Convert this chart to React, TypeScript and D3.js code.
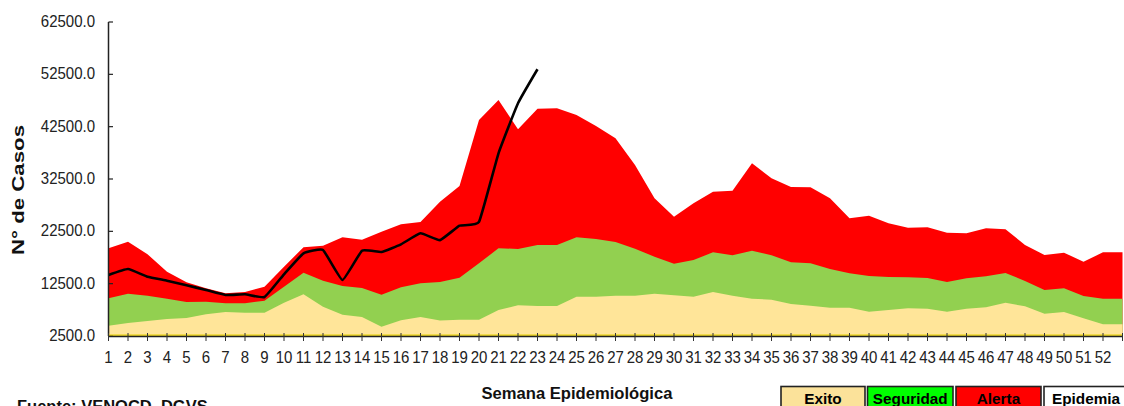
import * as d3 from 'd3';

// semanas epidemiológicas (53 puntos, etiqueta solo hasta 52)
const weeks = d3.range(1, 54);
const yTicks = [2500, 12500, 22500, 32500, 42500, 52500, 62500];

// límites superiores de cada zona del corredor endémico
const exito = [4470, 4985, 5370, 5750, 5940, 6650, 7090, 6960, 6960, 8870, 10470, 8100, 6570, 6130, 4280, 5500, 6130, 5460, 5590, 5620, 7470, 8360, 8230, 8230, 10010, 10010, 10200, 10200, 10580, 10270, 10010, 10910, 10200, 9630, 9440, 8610, 8290, 7910, 7910, 7140, 7470, 7790, 7720, 7140, 7720, 7980, 8870, 8170, 6760, 7090, 5880, 4740, 4740];
const seguridad = [9700, 10580, 10200, 9630, 9000, 9060, 8750, 8750, 9250, 11920, 14600, 13070, 12050, 11670, 10390, 11800, 12570, 12820, 13610, 16390, 19260, 19130, 19890, 19890, 21360, 21040, 20460, 19180, 17650, 16320, 17020, 18490, 17920, 18800, 17920, 16610, 16390, 15300, 14480, 13970, 13780, 13720, 13580, 12820, 13520, 13910, 14540, 13010, 11290, 11620, 10140, 9630, 9630];
const alerta = [19260, 20490, 18110, 14790, 12760, 11620, 10660, 10910, 11920, 15740, 19450, 19760, 21390, 20870, 22430, 23840, 24290, 28170, 31170, 43780, 47600, 42000, 45900, 46010, 44730, 42630, 40280, 35180, 28810, 25300, 27860, 30080, 30270, 35510, 32640, 30970, 30920, 28810, 24990, 25490, 24030, 23190, 23270, 22240, 22130, 23080, 22890, 19890, 17980, 18420, 16700, 18490, 18490];

// casos del año en curso
const casos = [14160, 15300, 13830, 13070, 12190, 11290, 10340, 10470, 9950, 14290, 18300, 18930, 13200, 18800, 18550, 20020, 22120, 20820, 23580, 24290, 37410, 46970, 53470];

const legend = [
  { name: 'Exito', fill: '#FBE29A' },
  { name: 'Seguridad', fill: '#00FF00' },
  { name: 'Alerta', fill: '#FF0000' },
  { name: 'Epidemia', fill: '#FFFFFF' },
];

const WIDTH = 1124;
const HEIGHT = 406;

export default function App() {
  const x = d3.scaleLinear().domain([1, 53]).range([108.5, 1122.5]);
  const y = d3.scaleLinear().domain([2500, 62500]).range([336, 22]);

  const zones = [
    { vals: alerta, fill: '#FF0000' },
    { vals: seguridad, fill: '#92D050' },
    { vals: exito, fill: '#FFE599' },
  ];

  const area = (vals: number[]) =>
    d3
      .area<number>()
      .x((_, i) => x(weeks[i]))
      .y0(y(2500))
      .y1((d) => y(d))(vals) as string;

  // suavizado ligero, como la línea suavizada de la planilla
  const line = d3
    .line<number>()
    .x((_, i) => x(weeks[i]))
    .y((d) => y(d))
    .curve(d3.curveCardinal.tension(0.65))(casos) as string;

  const font = 'Arial, "Liberation Sans", sans-serif';

  return (
    <svg
      width={WIDTH}
      height={HEIGHT}
      style={{ position: 'absolute', left: 0, top: 0, background: '#fff' }}
      fontFamily={font}
    >
      {zones.map((z, i) => (
        <path key={i} d={area(z.vals)} fill={z.fill} />
      ))}
      <path d={line} fill="none" stroke="#000" strokeWidth={2.6} strokeLinejoin="round" />

      {/* eje y */}
      <line x1={108.5} x2={108.5} y1={22} y2={336} stroke="#222" strokeWidth={1.5} />
      {yTicks.map((t) => (
        <g key={t}>
          <line x1={108.5} x2={113} y1={y(t)} y2={y(t)} stroke="#222" strokeWidth={1.2} />
          <text
            transform={`translate(95,${y(t) + 5}) scale(1,1.13)`}
            textAnchor="end"
            fontSize={15}
            fill="#222"
          >
            {t.toFixed(1)}
          </text>
        </g>
      ))}

      {/* eje x */}
      <line x1={108} x2={1123} y1={335.2} y2={335.2} stroke="#E8D200" strokeWidth={1.2} />
      <line x1={108} x2={1123} y1={336.5} y2={336.5} stroke="#222" strokeWidth={1.3} />
      {weeks.map((w) => (
        <g key={w}>
          <line x1={x(w)} x2={x(w)} y1={333} y2={341} stroke="#333" strokeWidth={1} />
          {w <= 52 && (
            <text
              transform={`translate(${x(w)},362.5) scale(1,1.13)`}
              textAnchor="middle"
              fontSize={15}
              fill="#222"
            >
              {w}
            </text>
          )}
        </g>
      ))}

      <text x={577} y={399} textAnchor="middle" fontSize={16.6} fontWeight="bold" fill="#111">
        Semana Epidemiológica
      </text>
      <text
        transform="translate(24,255) rotate(-90)"
        fontSize={17}
        fontWeight="bold"
        fill="#111"
        textLength={130}
        lengthAdjust="spacingAndGlyphs"
      >
        N° de Casos
      </text>
      <text x={17} y={411.5} fontSize={16.5} fontWeight="bold" fill="#111">
        Fuente: VENOCD, DGVS
      </text>

      {/* leyenda */}
      {legend.map((l, i) => {
        const bx = [781, 867.5, 956, 1044][i];
        const bw = [84, 85.5, 85, 84][i];
        return (
          <g key={l.name}>
            <rect x={bx} y={386.5} width={bw} height={30} fill={l.fill} stroke="#222" strokeWidth={1.6} />
            <text x={bx + bw / 2} y={404} textAnchor="middle" fontSize={15.3} fontWeight="bold" fill="#000">
              {l.name}
            </text>
          </g>
        );
      })}
    </svg>
  );
}
